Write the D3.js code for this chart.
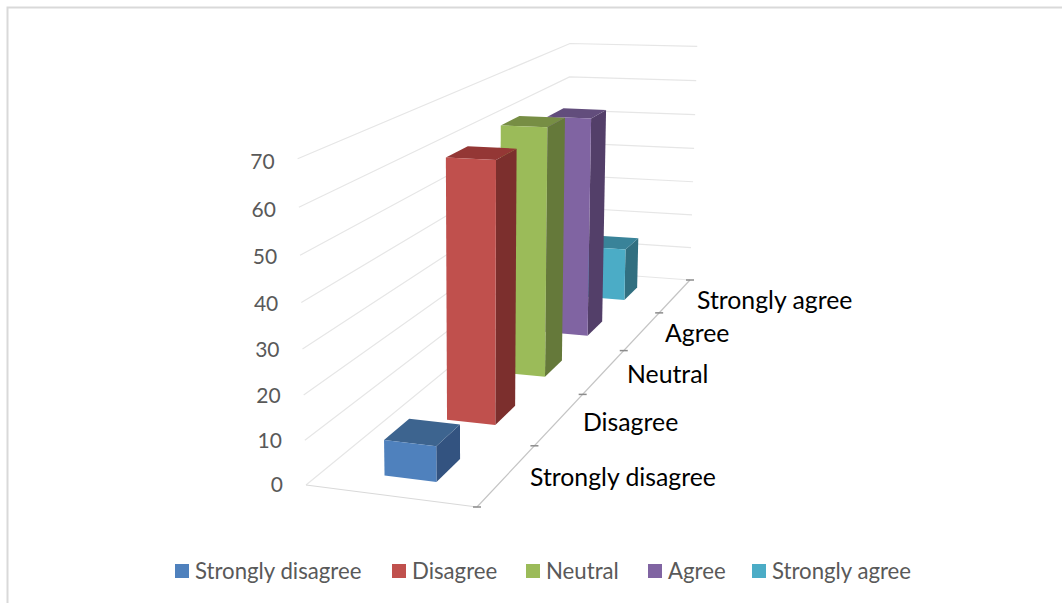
<!DOCTYPE html>
<html>
<head>
<meta charset="utf-8">
<script src="https://cdn.jsdelivr.net/npm/d3@7/dist/d3.min.js"></script>
<style>
html,body{margin:0;padding:0;background:#fff;}
svg{display:block;}
text{font-family:Lato,"Noto Sans",sans-serif;}
</style>
</head>
<body>
<svg id="chart" width="1062" height="603"></svg>
<script>
// Survey responses shown as a 3-D column chart with one column per response
const categories = ["Strongly disagree", "Disagree", "Neutral", "Agree", "Strongly agree"];
const values = [8, 62, 63, 59, 15];
const valueTicks = [0, 10, 20, 30, 40, 50, 60, 70];
const frontColors = ["#4f81bd", "#c0504d", "#9bbb59", "#8064a2", "#4bacc6"];
const topColors = ["#3d648f", "#943735", "#778e44", "#624d7c", "#398399"];
const sideColors = ["#335380", "#7c2f2d", "#65793a", "#533f69", "#316f80"];

const svg = d3.select("#chart");

// Small dense linear solver used to fit the projection
function solve(A, b) {
  const n = b.length, M = A.map((r, i) => [...r, b[i]]);
  for (let c = 0; c < n; c++) {
    let p = c;
    for (let r = c + 1; r < n; r++) if (Math.abs(M[r][c]) > Math.abs(M[p][c])) p = r;
    [M[c], M[p]] = [M[p], M[c]];
    for (let r = 0; r < n; r++) {
      if (r === c) continue;
      const f = M[r][c] / M[c][c];
      for (let k = c; k <= n; k++) M[r][k] -= f * M[c][k];
    }
  }
  return M.map((r, i) => r[n] / r[i]);
}

// Screen anchors of the plot box: floor corners and the top of the value axis
const floorAnchors = [[0, 0, 306, 485], [1, 0, 477, 507], [1, 1, 690, 280], [0, 1, 567, 271]];
const topAnchors = [[0, 0, 298, 160], [1, 1, 697, 47], [0, 1, 570, 42]];

// Floor homography from unit coordinates (u across, v in depth)
const A8 = [], b8 = [];
floorAnchors.forEach(([u, v, x, y]) => {
  A8.push([u, v, 1, 0, 0, 0, -u * x, -v * x]); b8.push(x);
  A8.push([0, 0, 0, u, v, 1, -u * y, -v * y]); b8.push(y);
});
const h = solve(A8, b8);
const floorH = (u, v) => [h[0] * u + h[1] * v + h[2], h[3] * u + h[4] * v + h[5], h[6] * u + h[7] * v + 1];

// Height column of the camera matrix, least squares over the top anchors
const rows = [], rhs = [];
topAnchors.forEach(([u, v, x, y]) => {
  const [X, Y, W] = floorH(u, v);
  rows.push([1, 0, -x]); rhs.push(x * W - X);
  rows.push([0, 1, -y]); rhs.push(y * W - Y);
});
const AtA = [0, 1, 2].map(i => [0, 1, 2].map(j => d3.sum(rows, r => r[i] * r[j])));
const Atb = [0, 1, 2].map(i => d3.sum(rows, (r, k) => r[i] * rhs[k]));
const [ha, hb, hc] = solve(AtA, Atb);

const heightScale = d3.scaleLinear().domain([0, 70]).range([0, 1]);
const depthScale = d3.scaleBand().domain(categories).range([0, 1]);

function project(u, v, value) {
  const w = heightScale(value), [X, Y, W] = floorH(u, v);
  const d = W + w * hc;
  return [(X + w * ha) / d, (Y + w * hb) / d];
}
const poly = pts => "M" + pts.map(p => p.join(",")).join("L") + "Z";
const seg = (a, b) => "M" + a.join(",") + "L" + b.join(",");

// Outer frame
svg.append("path").attr("d", "M7.5,603V7.5H1062").attr("fill", "none")
  .attr("stroke", "#d9d9d9").attr("stroke-width", 2);

// Gridlines along the side wall and the back wall
const gridG = svg.append("g").attr("fill", "none").attr("stroke", "#e6e6e6").attr("stroke-width", 1.2);
valueTicks.forEach(t => {
  gridG.append("path").attr("d", "M" + [project(0, 0, t), project(0, 1, t), project(1, 1, t)].map(p => p.join(",")).join("L"));
});
// Floor edges
gridG.append("path").attr("d", seg(project(0, 0, 0), project(1, 0, 0))).attr("stroke", "#d9d9d9");
gridG.append("path").attr("d", seg(project(1, 0, 0), project(1, 1, 0))).attr("stroke", "#c4c4c4");

// Depth axis tick marks at the band boundaries
const boundaries = d3.range(0, categories.length + 1).map(i => i / categories.length);
svg.append("g").selectAll("line").data(boundaries).join("line")
  .attr("x1", d => project(1, d, 0)[0] - 4)
  .attr("x2", d => project(1, d, 0)[0] + 4)
  .attr("y1", d => project(1, d, 0)[1])
  .attr("y2", d => project(1, d, 0)[1])
  .attr("stroke", "#8c8c8c").attr("stroke-width", 1.5);

// Value axis labels sit a fixed distance left of each gridline
svg.append("g").selectAll("text").data(valueTicks).join("text")
  .attr("x", d => project(0, 0, d)[0] - 23)
  .attr("y", d => project(0, 0, d)[1] + 7 + 3 * d / 70)
  .attr("text-anchor", "end").attr("font-size", 21).attr("fill", "#595959")
  .text(d => d);

// Columns, painted from the back of the chart to the front
const uLeft = 0.356, uRight = 0.666;
const frontGap = depthScale.bandwidth() * 0.275;
const barDepth = depthScale.bandwidth() * 0.38;
const order = categories.map((c, i) => i).reverse();
const barG = svg.append("g");
order.forEach(i => {
  const v0 = depthScale(categories[i]) + frontGap, v1 = v0 + barDepth;
  const val = values[i];
  const g = barG.append("g");
  g.append("path").attr("fill", sideColors[i]).attr("d", poly([
    project(uRight, v0, 0), project(uRight, v1, 0), project(uRight, v1, val), project(uRight, v0, val)]));
  g.append("path").attr("fill", topColors[i]).attr("d", poly([
    project(uLeft, v0, val), project(uRight, v0, val), project(uRight, v1, val), project(uLeft, v1, val)]));
  g.append("path").attr("fill", frontColors[i]).attr("d", poly([
    project(uLeft, v0, 0), project(uRight, v0, 0), project(uRight, v0, val), project(uLeft, v0, val)]));
});

// Depth axis labels
const catLabelX = [530, 583, 627, 665, 697];
const catLabelY = [486, 431, 383, 342, 309];
svg.append("g").selectAll("text").data(categories).join("text")
  .attr("x", (d, i) => catLabelX[i]).attr("y", (d, i) => catLabelY[i])
  .attr("font-size", 24.8).attr("fill", "#000").text(d => d);

// Legend
const legendX = [175, 392, 526, 648, 752];
const legend = svg.append("g").selectAll("g").data(categories).join("g")
  .attr("transform", (d, i) => `translate(${legendX[i]},564)`);
legend.append("rect").attr("width", 14).attr("height", 14).attr("fill", (d, i) => frontColors[i]);
legend.append("text").attr("x", 20).attr("y", 15).attr("font-size", 22.2).attr("fill", "#595959").text(d => d);
</script>
</body>
</html>
